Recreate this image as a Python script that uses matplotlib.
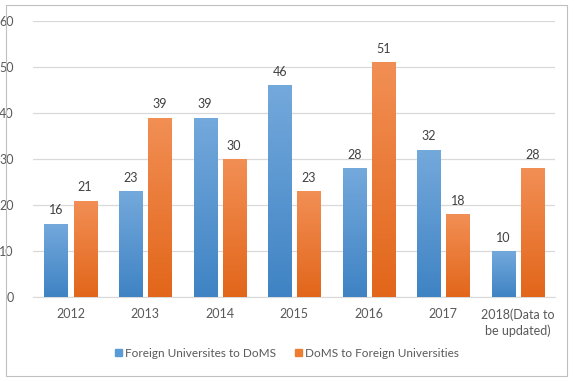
import matplotlib
matplotlib.use("Agg")
import matplotlib.pyplot as plt
from matplotlib.patches import Rectangle
import numpy as np

years = ["2012", "2013", "2014", "2015", "2016", "2017", "2018(Data to\nbe updated)"]
foreign_to_doms = [16, 23, 39, 46, 28, 32, 10]
doms_to_foreign = [21, 39, 30, 23, 51, 18, 28]

plt.rcParams['font.family'] = ['Lato', 'DejaVu Sans']
txt = "#595959"

fig = plt.figure(figsize=(5.74, 3.81), dpi=100)
ax = fig.add_axes([0.058, 0.22, 0.909, 0.725])

x = np.arange(len(years))
w = 0.31
off = 0.195


def grad_bars(xs, vals, top, bottom):
    bars = ax.bar(xs, vals, w, color="none", linewidth=0, zorder=3)
    g = np.linspace(0, 1, 256).reshape(-1, 1)
    cmap = matplotlib.colors.LinearSegmentedColormap.from_list("g", [bottom, top])
    for b in bars:
        x0, y0 = b.get_x(), b.get_y()
        im = ax.imshow(g, cmap=cmap, extent=[x0, x0 + b.get_width(), y0, y0 + b.get_height()],
                       origin="lower", aspect="auto", zorder=3)
        im.set_clip_path(b)
    for xi, v in zip(xs, vals):
        ax.text(xi, v + 1.6, str(v), ha="center", va="bottom", fontsize=9, color="#404040")
    return bars


grad_bars(x - off, foreign_to_doms, "#74A9DC", "#3F83C4")
grad_bars(x + off, doms_to_foreign, "#F28F55", "#E2661A")

ax.set_xlim(-0.5, len(years) - 0.5)
ax.set_ylim(0, 60)
ax.set_yticks(range(0, 61, 10))
ax.set_xticks(x)
ax.set_xticklabels(years, linespacing=1.3)
ax.tick_params(length=0, colors=txt, labelsize=9)
ax.tick_params(axis="y", pad=14)
ax.tick_params(axis="x", pad=8)
ax.grid(axis="y", color="#D9D9D9", linewidth=0.9, zorder=0)
for s in ["top", "right", "left"]:
    ax.spines[s].set_visible(False)
ax.spines["bottom"].set_color("#D9D9D9")

h1 = Rectangle((0, 0), 1, 1, color="#5B9BD5")
h2 = Rectangle((0, 0), 1, 1, color="#ED7D31")
fig.legend([h1, h2], ["Foreign Universites to DoMS", "DoMS to Foreign Universities"],
           loc="center", bbox_to_anchor=(0.5, 0.073), ncol=2, frameon=False,
           fontsize=8.5, labelcolor=txt, handlelength=0.6, handleheight=0.6,
           handletextpad=0.25, columnspacing=1.6)

fig.patches.append(Rectangle((0.01, 0.012), 0.978, 0.975, transform=fig.transFigure,
                             fill=False, edgecolor="#BFBFBF", linewidth=0.8))

fig.savefig("out.png", dpi=100)
